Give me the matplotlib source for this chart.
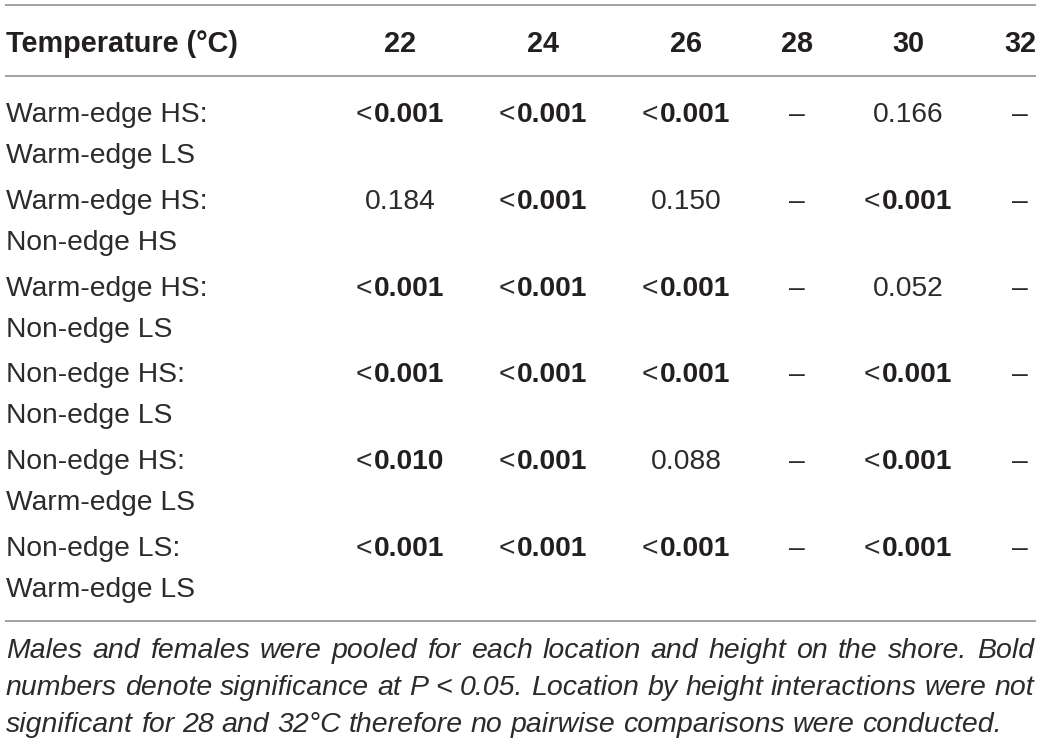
import matplotlib
matplotlib.use("Agg")
import matplotlib.pyplot as plt

# ---------------- data ----------------
header_label = "Temperature (°C)"
temperatures = ["22", "24", "26", "28", "30", "32"]
comparisons = [
    ("Warm-edge HS:", "Warm-edge LS"),
    ("Warm-edge HS:", "Non-edge HS"),
    ("Warm-edge HS:", "Non-edge LS"),
    ("Non-edge HS:", "Non-edge LS"),
    ("Non-edge HS:", "Warm-edge LS"),
    ("Non-edge LS:", "Warm-edge LS"),
]
col_22 = ["<0.001", "0.184", "<0.001", "<0.001", "<0.010", "<0.001"]
col_24 = ["<0.001", "<0.001", "<0.001", "<0.001", "<0.001", "<0.001"]
col_26 = ["<0.001", "0.150", "<0.001", "<0.001", "0.088", "<0.001"]
col_28 = ["–", "–", "–", "–", "–", "–"]
col_30 = ["0.166", "<0.001", "0.052", "<0.001", "<0.001", "<0.001"]
col_32 = ["–", "–", "–", "–", "–", "–"]
caption_lines = [
    "Males and females were pooled for each location and height on the shore. Bold",
    "numbers denote significance at P < 0.05. Location by height interactions were not",
    "significant for 28 and 32°C therefore no pairwise comparisons were conducted.",
]

columns = [col_22, col_24, col_26, col_28, col_30, col_32]

# ---------------- layout ----------------
W, H = 1041, 744
fig = plt.figure(figsize=(W / 100, H / 100), dpi=100)
ax = fig.add_axes([0, 0, 1, 1])
ax.set_xlim(0, W)
ax.set_ylim(H, 0)
ax.axis("off")

FAM = ["Liberation Sans", "DejaVu Sans"]
FS = 20.3
HFS = 20.8
CFS = 20.5
TXT = "#231f20"
LIGHT_TXT = "#2b2b2b"
LINE = "#9a9a9a"

col_x = [400, 543, 686, 797, 908, 1020]
left_x = 6
header_base = 52
row0_base = 122
row_step = 86.8
line2_off = 41

renderer = fig.canvas.get_renderer()


def text_width(s, **kw):
    t = ax.text(0, 0, s, **kw)
    bb = t.get_window_extent(renderer=renderer)
    t.remove()
    return bb.width


def hline(y):
    ax.plot([5, 1036], [y, y], color=LINE, lw=1.3, solid_capstyle="butt")


hline(5)
hline(76)
hline(621)

# header
ax.text(left_x, header_base, header_label, family=FAM, fontweight="bold",
        fontsize=HFS, color=TXT, va="baseline", ha="left")
for x, t in zip(col_x, temperatures):
    ax.text(x, header_base, t, family=FAM, fontweight="bold", fontsize=HFS,
            color=TXT, va="baseline", ha="center")

body_kw = dict(family=FAM, fontweight="normal", fontsize=FS, color=LIGHT_TXT)
bold_kw = dict(family=FAM, fontweight="bold", fontsize=FS, color=TXT)

# rows
for i, (a, b) in enumerate(comparisons):
    yb = row0_base + i * row_step
    ax.text(left_x, yb, a, va="baseline", ha="left", **body_kw)
    ax.text(left_x, yb + line2_off, b, va="baseline", ha="left", **body_kw)
    for x, col in zip(col_x, columns):
        v = col[i]
        if v.startswith("<"):
            w1 = text_width("<", **body_kw) + 1.5
            w2 = text_width(v[1:], **bold_kw)
            x0 = x - (w1 + w2) / 2
            ax.text(x0, yb, "<", va="baseline", ha="left", **body_kw)
            ax.text(x0 + w1, yb, v[1:], va="baseline", ha="left", **bold_kw)
        else:
            ax.text(x, yb, v, va="baseline", ha="center", **body_kw)

# caption (justified italic)
cap_base = [658, 695, 732]
cap_kw = dict(family=FAM, fontweight="normal", style="italic", fontsize=CFS,
              color=LIGHT_TXT)
xl, xr = 6, 1034
for j, (line, yb) in enumerate(zip(caption_lines, cap_base)):
    words = line.split(" ")
    widths = [text_width(w, **cap_kw) for w in words]
    space = text_width("a a", **cap_kw) - 2 * text_width("a", **cap_kw)
    if j < len(caption_lines) - 1:
        gap = (xr - xl - sum(widths)) / (len(words) - 1)
    else:
        gap = space
    x = xl
    for w, ww in zip(words, widths):
        ax.text(x, yb, w, va="baseline", ha="left", **cap_kw)
        x += ww + gap

fig.savefig("out.png", dpi=100)
